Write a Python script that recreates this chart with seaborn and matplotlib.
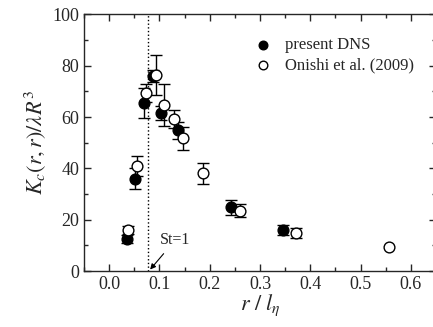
import numpy as np
import pandas as pd
import seaborn as sns
import matplotlib.pyplot as plt
from matplotlib.ticker import MultipleLocator

# present DNS (filled)
dns_r = [0.035, 0.051, 0.070, 0.0875, 0.103, 0.137, 0.242, 0.346]
dns_k = [12.5, 36.0, 65.5, 76.0, 61.7, 54.8, 24.8, 16.0]
dns_err = [1.7, 4.0, 6.0, 2.5, 2.8, 3.3, 2.8, 2.0]

# Onishi et al. (2009) (open)
oni_r = [0.0365, 0.0545, 0.073, 0.093, 0.109, 0.129, 0.147, 0.186, 0.260, 0.371, 0.557]
oni_k = [16.0, 40.9, 69.3, 76.4, 64.7, 59.1, 51.7, 38.1, 23.5, 14.9, 9.5]
oni_err = [1.5, 4.0, 3.5, 7.7, 8.0, 3.5, 4.6, 4.1, 2.5, 2.0, 0.0]

st1_r = 0.0765

sns.set_style("ticks")
plt.rcParams['font.family'] = ['Liberation Serif', 'DejaVu Serif']
plt.rcParams['mathtext.fontset'] = 'stix'

df = pd.concat([
    pd.DataFrame({'r': dns_r, 'K': dns_k, 'err': dns_err, 'src': 'present DNS'}),
    pd.DataFrame({'r': oni_r, 'K': oni_k, 'err': oni_err, 'src': 'Onishi et al. (2009)'}),
], ignore_index=True)

fig = plt.figure(figsize=(4.33, 3.27), dpi=100)
ax = fig.add_axes([0.194, 0.171, 0.813, 0.785])

for src in ['Onishi et al. (2009)', 'present DNS']:
    d = df[df['src'] == src]
    d = d[d['err'] > 0]
    ax.errorbar(d['r'], d['K'], yerr=d['err'], fmt='none', ecolor='black',
                elinewidth=1, capsize=4.5, capthick=1, zorder=2)

sns.scatterplot(data=df[df['src'] == 'present DNS'], x='r', y='K', ax=ax,
                color='black', edgecolor='black', s=60, linewidth=1,
                label='present DNS', zorder=3)
sns.scatterplot(data=df[df['src'] == 'Onishi et al. (2009)'], x='r', y='K', ax=ax,
                facecolor='white', edgecolor='black', s=60, linewidth=1,
                label='Onishi et al. (2009)', zorder=4)

ax.axvline(st1_r, ls=':', color='black', lw=1, zorder=1)
ax.annotate('St=1', xy=(0.0815, 0.6), xytext=(0.131, 12), fontsize=11.5,
            ha='center', va='center',
            arrowprops=dict(arrowstyle='-|>', color='black', lw=0.8,
                            mutation_scale=8, shrinkA=2, shrinkB=0))

ax.set_xlim(-0.05, 0.65)
ax.set_ylim(0, 100)
ax.xaxis.set_major_locator(MultipleLocator(0.1))
ax.xaxis.set_minor_locator(MultipleLocator(0.05))
ax.yaxis.set_major_locator(MultipleLocator(20))
ax.yaxis.set_minor_locator(MultipleLocator(10))
ax.set_xticklabels([f'{v:.1f}' for v in ax.get_xticks()])
ax.tick_params(which='both', direction='in', top=True, right=True, labelsize=13, width=1)
ax.tick_params(which='major', length=5)
ax.tick_params(which='minor', length=3)
for sp in ax.spines.values():
    sp.set_linewidth(1)

ax.set_xlabel(r'$r\ /\ l_\eta$', fontsize=16, labelpad=0)
ax.set_ylabel(r'$K_c(r,r)/\lambda R^3$', fontsize=16, labelpad=3)

ax.legend(loc='upper left', bbox_to_anchor=(0.443, 0.938), frameon=False,
          fontsize=12, handletextpad=0.3, labelspacing=0.25, borderaxespad=0,
          markerscale=0.8)

fig.savefig('out.png', dpi=100)
